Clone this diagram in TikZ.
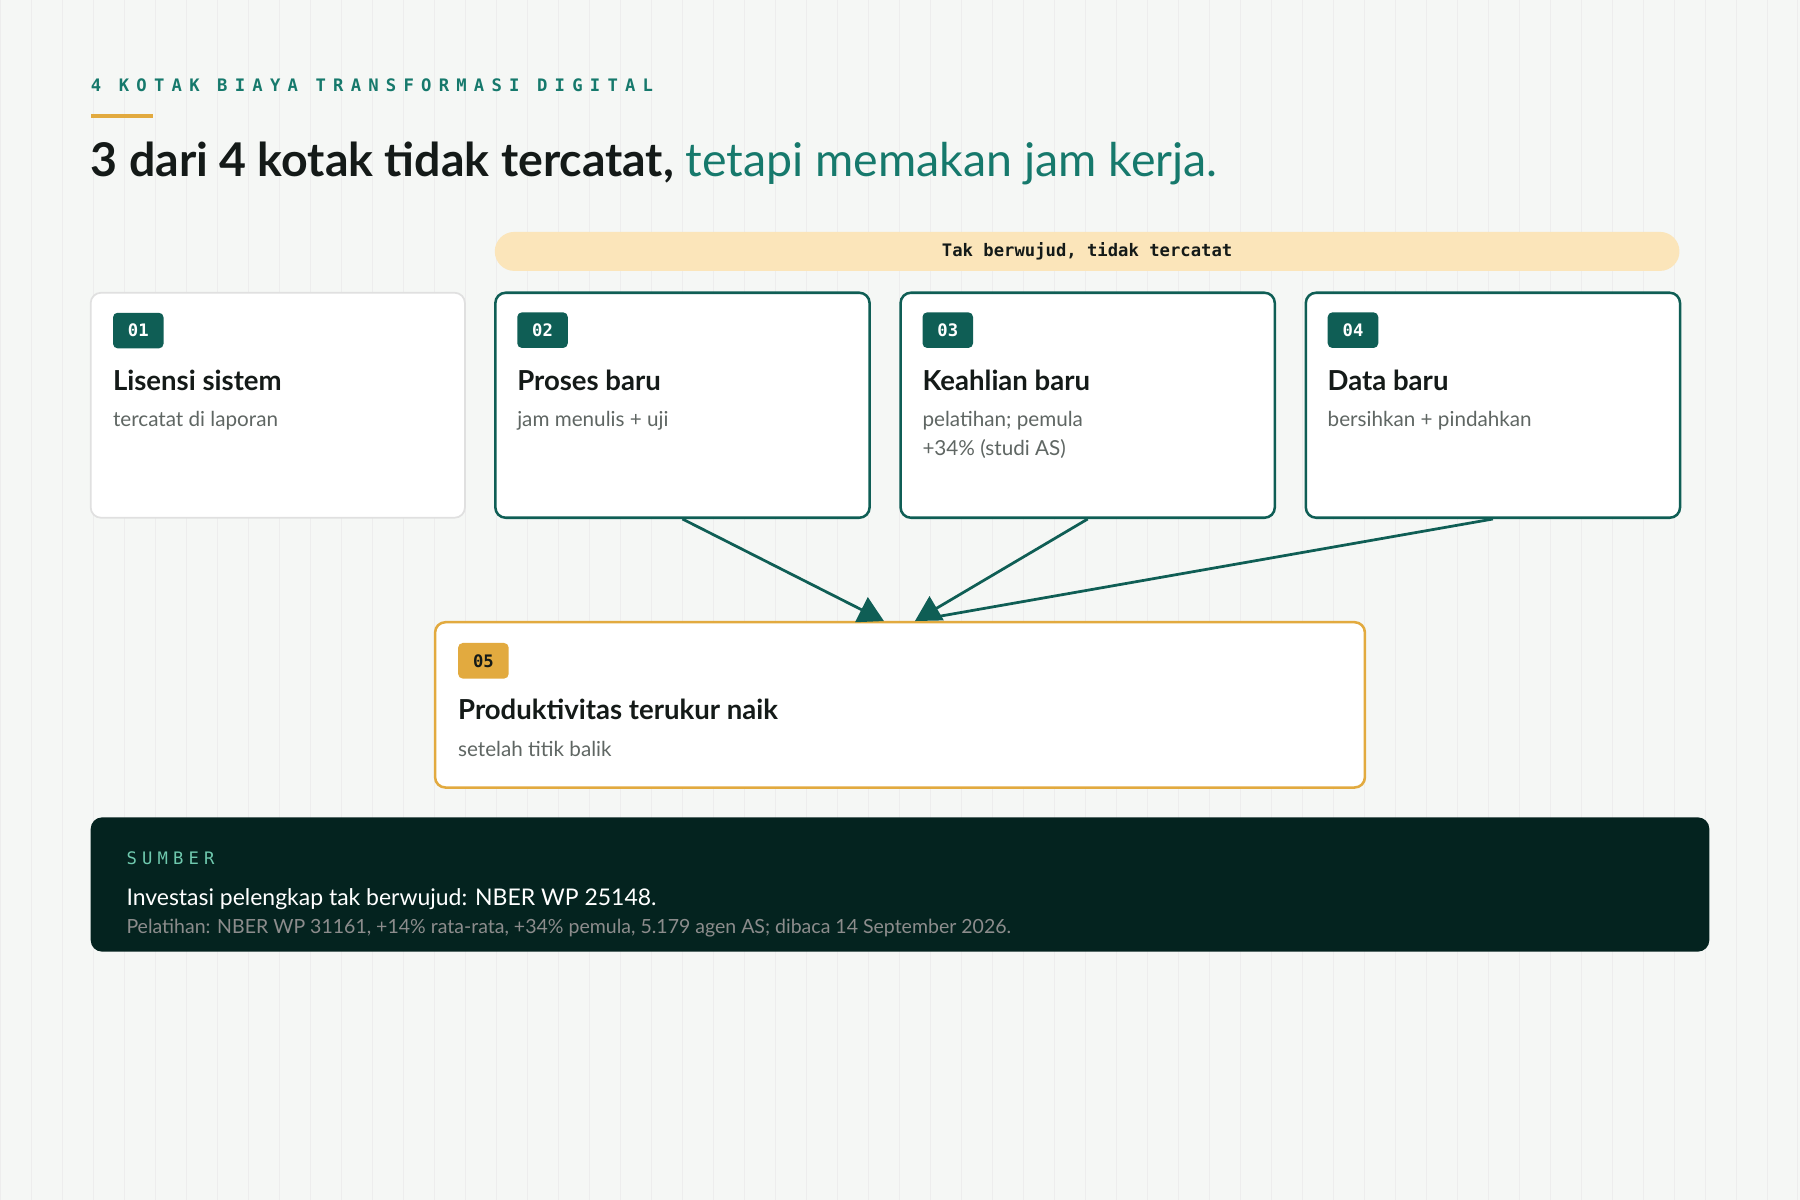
\documentclass[tikz,border=0pt]{standalone}
\usepackage{fontspec}
\setmainfont{Lato}
\setmonofont{DejaVu Sans Mono}
\usetikzlibrary{arrows.meta,positioning}
\definecolor{teal}{HTML}{0F5E55}
\definecolor{tealtxt}{HTML}{16796C}
\definecolor{gold}{HTML}{E2AA3F}
\definecolor{band}{HTML}{FBE5BA}
\definecolor{ink}{HTML}{141A18}
\definecolor{mute}{HTML}{5F6663}
\definecolor{night}{HTML}{04231F}
\definecolor{paper}{HTML}{F5F7F5}
\definecolor{mint}{HTML}{6FC9AE}
\tikzset{
  card/.style={draw=teal,line width=2.2pt,fill=white,rounded corners=9pt,minimum width=326pt,minimum height=196pt,inner sep=0pt},
  badge/.style={fill=teal,text=white,rounded corners=4pt,minimum width=44pt,minimum height=31pt,inner sep=0pt,font=\ttfamily\bfseries\fontsize{15}{15}\selectfont},
  head/.style={anchor=base west,inner sep=0pt,text=ink,font=\bfseries\fontsize{24}{24}\selectfont},
  sub/.style={anchor=north west,inner sep=0pt,text=mute,align=left,font=\fontsize{18}{25}\selectfont},
  feed/.style={draw=teal,line width=2.4pt,-{Triangle[length=22pt,width=24pt]}}
}
\begin{document}
\begin{tikzpicture}[x=1pt,y=-1pt]
\fill[paper] (0,0) rectangle (1568,1045);
\useasboundingbox (0,0) rectangle (1568,1045);
\draw[step=27,black!7] (0,0) grid (1568,1045);
% heading
\node[anchor=base west,inner sep=0pt,text=tealtxt,font=\ttfamily\bfseries\fontsize{15}{15}\selectfont\addfontfeature{LetterSpace=42}] (kicker) at (79,80)
  {4 KOTAK BIAYA TRANSFORMASI DIGITAL};
\fill[gold] (79,99.5) rectangle (133,102.5);
\node[anchor=base west,inner sep=0pt,font=\fontsize{40.5}{40}\selectfont] (title) at (79,154)
  {\textcolor{ink}{\bfseries 3 dari 4 kotak tidak tercatat,}\ \textcolor{tealtxt}{tetapi memakan jam kerja.}};
% band
\node[fill=band,rounded corners=17pt,minimum width=1032pt,minimum height=34pt,inner sep=0pt,
  font=\ttfamily\bfseries\fontsize{15}{15}\selectfont,text=ink] (band) at (947,219) {Tak berwujud, tidak tercatat};
% cards
\node[card,draw=black!12,line width=1.5pt] (c1) at (242,353) {};
\node[card] (c2) at (594.5,353) {};
\node[card] (c3) at (947.5,353) {};
\node[card] (c4) at (1300.5,353) {};
\foreach \i/\t/\s in {1/Lisensi sistem/tercatat di laporan,2/Proses baru/jam menulis + uji,
  3/Keahlian baru/{pelatihan; pemula\\+34\% (studi AS)},4/Data baru/bersihkan + pindahkan}{
  \node[badge,anchor=north west] (b\i) at ([shift={(20,18)}]c\i.north west) {0\i};
  \node[head] (h\i) at ([shift={(20,86)}]c\i.north west) {\t};
  \node[sub] (s\i) at ([shift={(20,104)}]c\i.north west) {\s};
}
% result
\node[card,draw=gold,minimum width=810pt,minimum height=144pt] (c5) at (784,614) {};
\node[badge,fill=gold,text=ink,anchor=north west] (b5) at ([shift={(21,19)}]c5.north west) {05};
\node[head] (h5) at ([shift={(21,86)}]c5.north west) {Produktivitas terukur naik};
\node[sub] (s5) at ([shift={(21,105)}]c5.north west) {setelah titik balik};
\coordinate (t2) at (770,541);
\coordinate (t3) at (797,541);
\coordinate (t4) at (806,539);
\draw[feed] (c2.south) -- (t2);
\draw[feed] (c3.south) -- (t3);
\draw[feed,-] (c4.south) -- (t4);
% source
\node[fill=night,rounded corners=10pt,minimum width=1410pt,minimum height=117pt,inner sep=0pt] (src) at (784,770.5) {};
\node[anchor=base west,inner sep=0pt,text=mint,font=\ttfamily\fontsize{15}{15}\selectfont\addfontfeature{LetterSpace=30}] (srck) at (110,753) {SUMBER};
\node[anchor=base west,inner sep=0pt,text=white,font=\fontsize{20}{20}\selectfont] (src1) at (110,789) {Investasi pelengkap tak berwujud: NBER WP 25148.};
\node[anchor=base west,inner sep=0pt,text=black!45,font=\fontsize{17}{17}\selectfont] (src2) at (110,813) {Pelatihan: NBER WP 31161, +14\% rata-rata, +34\% pemula, 5.179 agen AS; dibaca 14 September 2026.};
\end{tikzpicture}
\end{document}
